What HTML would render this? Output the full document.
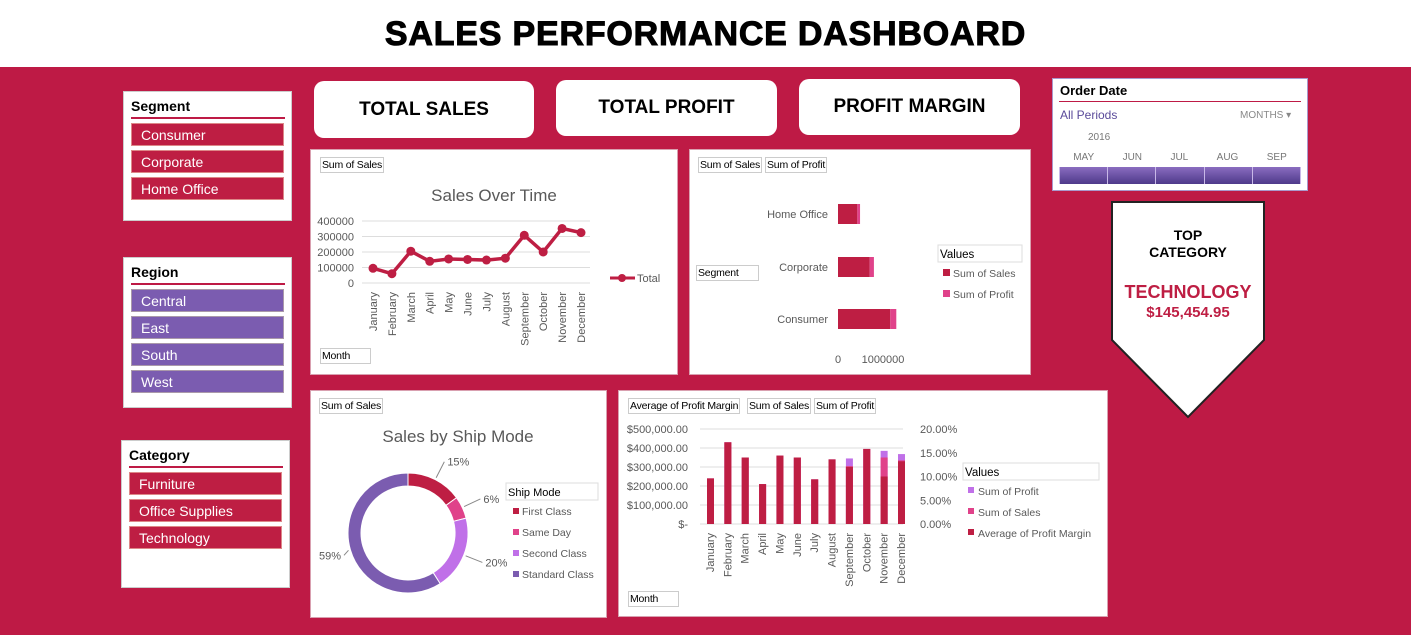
<!DOCTYPE html>
<html><head><meta charset="utf-8"><style>
*{box-sizing:border-box;margin:0;padding:0}
body{width:1411px;height:635px;overflow:hidden;font-family:"Liberation Sans",sans-serif;background:#BE1A45;position:relative}
.abs{position:absolute}
.panel{position:absolute;background:#fff;border:1px solid #d9a0b0}
.slicer{position:absolute;background:#fff;border:1px solid #ccc}
.slicer h3{font-size:14px;font-weight:bold;color:#000;margin:6px 6px 0 7px;padding-bottom:3px;border-bottom:2px solid #BE1A45}
.item{margin:4px 7px 0 7px;height:23px;color:#fff;font-size:14px;line-height:23px;padding-left:9px;border:1px solid #d88}
.cr{background:#BE1E43}.pu{background:#7B5CB0;border-color:#a9a}
.kpi{position:absolute;background:#fff;border-radius:10px;font-weight:bold;font-size:19px;text-align:center;color:#000}
.tag{position:absolute;border:1px solid #ccc;font-size:10.5px;background:#fff;padding:1px 1px;color:#000;white-space:nowrap;letter-spacing:-0.2px}
svg text{font-family:"Liberation Sans",sans-serif}
</style></head><body>
<div class="abs" style="left:0;top:0;width:1411px;height:67px;background:#fff"></div>
<div class="abs" style="left:0;top:15px;width:1411px;text-align:center;font-size:34px;font-weight:900;letter-spacing:0.8px;-webkit-text-stroke:1px #000">SALES PERFORMANCE DASHBOARD</div>

<div class="slicer" style="left:123px;top:91px;width:169px;height:130px">
<h3>Segment</h3>
<div class="item cr">Consumer</div>
<div class="item cr">Corporate</div>
<div class="item cr">Home Office</div>
</div>
<div class="slicer" style="left:123px;top:257px;width:169px;height:151px">
<h3>Region</h3>
<div class="item pu">Central</div>
<div class="item pu">East</div>
<div class="item pu">South</div>
<div class="item pu">West</div>
</div>
<div class="slicer" style="left:121px;top:440px;width:169px;height:148px">
<h3>Category</h3>
<div class="item cr">Furniture</div>
<div class="item cr">Office Supplies</div>
<div class="item cr">Technology</div>
</div>

<div class="kpi" style="left:314px;top:81px;width:220px;height:57px;line-height:57px">TOTAL SALES</div>
<div class="kpi" style="left:556px;top:80px;width:221px;height:56px;line-height:56px">TOTAL PROFIT</div>
<div class="kpi" style="left:799px;top:79px;width:221px;height:56px;line-height:56px">PROFIT MARGIN</div>

<div class="slicer" style="left:1052px;top:78px;width:256px;height:113px;border-color:#a9c">
<div class="abs" style="left:7px;top:4px;font-size:13px;font-weight:bold">Order Date</div>
<div class="abs" style="left:6px;top:22px;width:242px;border-top:1px solid #BE1A45"></div>
<div class="abs" style="left:7px;top:29px;font-size:12px;color:#5a4a9a">All Periods</div>
<div class="abs" style="left:187px;top:31px;font-size:10px;color:#888">MONTHS ▾</div>
<div class="abs" style="left:35px;top:53px;font-size:10px;color:#777">2016</div>
<div class="abs" style="left:6px;top:73px;width:242px;font-size:10px;color:#777;display:flex;justify-content:space-around"><span>MAY</span><span>JUN</span><span>JUL</span><span>AUG</span><span>SEP</span></div>
<div class="abs" style="left:6px;top:88px;width:242px;height:17px;background:linear-gradient(#8a6cc0,#4e3a8a);border-left:1px solid #ccc"></div>
<div class="abs" style="left:6px;top:88px;width:242px;height:17px;display:flex;justify-content:space-between;pointer-events:none"><span style="border-left:1px solid #c8b8e8"></span><span style="border-left:1px solid #c8b8e8"></span><span style="border-left:1px solid #c8b8e8"></span><span style="border-left:1px solid #c8b8e8"></span><span style="border-left:1px solid #c8b8e8"></span><span style="border-left:1px solid #c8b8e8"></span></div>
</div>

<svg class="abs" style="left:1110px;top:200px" width="158" height="220">
<polygon points="2,2 154,2 154,140 78,217 2,140" fill="#fff" stroke="#222" stroke-width="2"/>
<text x="78" y="40" text-anchor="middle" font-size="14" font-weight="bold">TOP</text>
<text x="78" y="57" text-anchor="middle" font-size="14" font-weight="bold">CATEGORY</text>
<text x="78" y="98" text-anchor="middle" font-size="18" font-weight="bold" fill="#BE1E43">TECHNOLOGY</text>
<text x="78" y="117" text-anchor="middle" font-size="15" font-weight="bold" fill="#BE1E43">$145,454.95</text>
</svg>

<div class="panel" style="left:310px;top:149px;width:368px;height:226px"></div>
<div class="tag" style="left:320px;top:157px">Sum of Sales</div>
<div class="tag" style="left:320px;top:348px;width:51px">Month</div>
<svg id="line" class="abs" style="left:310px;top:149px" width="368" height="226"></svg>

<div class="panel" style="left:689px;top:149px;width:342px;height:226px"></div>
<div class="tag" style="left:698px;top:157px">Sum of Sales</div>
<div class="tag" style="left:765px;top:157px">Sum of Profit</div>
<div class="tag" style="left:696px;top:265px;width:63px">Segment</div>
<svg id="hbar" class="abs" style="left:689px;top:149px" width="342" height="226"></svg>

<div class="panel" style="left:310px;top:390px;width:297px;height:228px"></div>
<div class="tag" style="left:319px;top:398px">Sum of Sales</div>
<svg id="donut" class="abs" style="left:310px;top:390px" width="297" height="228"></svg>

<div class="panel" style="left:618px;top:390px;width:490px;height:227px"></div>
<div class="tag" style="left:628px;top:398px">Average of Profit Margin</div>
<div class="tag" style="left:747px;top:398px">Sum of Sales</div>
<div class="tag" style="left:814px;top:398px">Sum of Profit</div>
<div class="tag" style="left:628px;top:591px;width:51px">Month</div>
<svg id="col" class="abs" style="left:618px;top:390px" width="490" height="227"></svg>

<script>
const months=["January","February","March","April","May","June","July","August","September","October","November","December"];
const salesByMonth=[95000,60000,205000,140000,155000,152000,148000,160000,308000,200000,352000,325000];
const lineTicks=[0,100000,200000,300000,400000];
const segments=["Consumer","Corporate","Home Office"];
const segSales=[1161401,706146,429653];
const segProfit=[134119,91979,60299];
const shipModes=["First Class","Same Day","Second Class","Standard Class"];
const shipPct=[15,6,20,59];
const colMargin=[240000,430000,350000,210000,360000,350000,235000,340000,300000,395000,250000,330000];
const colSales=[240000,430000,350000,210000,360000,350000,235000,340000,305000,395000,350000,335000];
const colProfit=[240000,430000,350000,210000,360000,350000,235000,340000,345000,395000,385000,368000];
const leftTicks=["$-","$100,000.00","$200,000.00","$300,000.00","$400,000.00","$500,000.00"];
const rightTicks=["0.00%","5.00%","10.00%","15.00%","20.00%"];

const NS="http://www.w3.org/2000/svg";
function mk(p,t,a,txt){const e=document.createElementNS(NS,t);for(const k in a)e.setAttribute(k,a[k]);if(txt!==undefined)e.textContent=txt;p.appendChild(e);return e;}
const G="#595959";

(function(){
const s=document.getElementById('line');
const x=i=>63+i*(208/11), y=v=>134-v/400000*62;
const t=mk(s,'text',{x:184,y:52,'text-anchor':'middle','font-size':17,fill:G},'Sales Over Time');

lineTicks.forEach(v=>{mk(s,'line',{x1:52,x2:280,y1:y(v),y2:y(v),stroke:'#ddd'});
 const l=mk(s,'text',{x:44,y:y(v)+4,'text-anchor':'end','font-size':11,fill:G},String(v));});
months.forEach((m,i)=>{const l=mk(s,'text',{transform:`translate(${x(i)+4},143) rotate(-90)`,'text-anchor':'end','font-size':11,fill:G},m);});
const p=mk(s,'polyline',{points:salesByMonth.map((v,i)=>x(i)+','+y(v)).join(' '),fill:'none',stroke:'#BE1E43','stroke-width':3.5});

salesByMonth.forEach((v,i)=>{const c=mk(s,'circle',{cx:x(i),cy:y(v),r:4.5,fill:'#BE1E43'});});
mk(s,'line',{x1:300,x2:325,y1:129,y2:129,stroke:'#BE1E43','stroke-width':3});
mk(s,'circle',{cx:312,cy:129,r:4,fill:'#BE1E43'});
const lg=mk(s,'text',{x:327,y:133,'font-size':11,fill:G},'Total');
})();

(function(){
const s=document.getElementById('hbar');
const x=v=>149+v/1000000*45;
const ys=[170,118,65];
segments.forEach((g,i)=>{const yy=ys[i];
 const b=mk(s,'rect',{x:x(0),y:yy-10,width:x(segSales[i])-x(0),height:20,fill:'#BE1E43'});
 const b2=mk(s,'rect',{x:x(segSales[i]),y:yy-10,width:x(segProfit[i])-x(0),height:20,fill:'#E0428A'});
 const l=mk(s,'text',{x:139,y:yy+4,'text-anchor':'end','font-size':11,fill:G},g);});
mk(s,'text',{x:x(0),y:214,'text-anchor':'middle','font-size':11,fill:G},'0');
mk(s,'text',{x:x(1000000),y:214,'text-anchor':'middle','font-size':11,fill:G},'1000000');
mk(s,'rect',{x:249,y:96,width:84,height:17,fill:'#fff',stroke:'#ddd'});
mk(s,'text',{x:251,y:109,'font-size':11.5},'Values');
mk(s,'rect',{x:254,y:120,width:7,height:7,fill:'#BE1E43'});mk(s,'text',{x:264,y:128,'font-size':10.5,fill:G},'Sum of Sales');
mk(s,'rect',{x:254,y:141,width:7,height:7,fill:'#E0428A'});mk(s,'text',{x:264,y:149,'font-size':10.5,fill:G},'Sum of Profit');
})();

(function(){
const s=document.getElementById('donut');
const cx=98,cy=143,R=60,r=47;const cols=['#BE1E43','#E0428A','#C070E8','#7B5CB0'];
const t=mk(s,'text',{x:148,y:52,'text-anchor':'middle','font-size':17,fill:G},'Sales by Ship Mode');
const tot=shipPct.reduce((a,b)=>a+b,0);let a0=-Math.PI/2;
const pt=(rad,a)=>[cx+rad*Math.cos(a),cy+rad*Math.sin(a)];
shipPct.forEach((v,i)=>{const a1=a0+v/tot*2*Math.PI;const lg=(a1-a0)>Math.PI?1:0;
 const [x0,y0]=pt(R,a0),[x1,y1]=pt(R,a1),[x2,y2]=pt(r,a1),[x3,y3]=pt(r,a0);
 const p=mk(s,'path',{d:`M${x0},${y0}A${R},${R} 0 ${lg} 1 ${x1},${y1}L${x2},${y2}A${r},${r} 0 ${lg} 0 ${x3},${y3}Z`,fill:cols[i],stroke:'#fff','stroke-width':1});
 
 const am=(a0+a1)/2;const right=Math.cos(am)>=0;let [lx,ly]=pt(R+20,am);if(!right)lx=Math.max(lx,34);const [ex,ey]=pt(R+2,am);
 mk(s,'line',{x1:ex,y1:ey,x2:lx,y2:ly,stroke:'#888'});
 const lt=mk(s,'text',{x:lx+(right?3:-3),y:ly+4,'text-anchor':right?'start':'end','font-size':11,fill:G},v+'%');
 
 a0=a1;});
mk(s,'rect',{x:196,y:93,width:92,height:17,fill:'#fff',stroke:'#ddd'});
mk(s,'text',{x:198,y:106,'font-size':11},'Ship Mode');
shipModes.forEach((m,i)=>{mk(s,'rect',{x:203,y:118+i*21,width:6,height:6,fill:cols[i]});mk(s,'text',{x:212,y:125+i*21,'font-size':10.5,fill:G},m);});
})();

(function(){
const s=document.getElementById('col');
const x=i=>92+i*(191/11), y=v=>134-v/500000*95;
leftTicks.forEach((t,i)=>{const v=i*100000;mk(s,'line',{x1:82,x2:285,y1:y(v),y2:y(v),stroke:'#ddd'});
 const l=mk(s,'text',{x:70,y:y(v)+4,'text-anchor':'end','font-size':11,fill:G},t);});
rightTicks.forEach((t,i)=>{const l=mk(s,'text',{x:302,y:y(i*125000)+4,'font-size':11,fill:G},t);});
months.forEach((m,i)=>{
 const bp=mk(s,'rect',{x:x(i)-3,y:y(colProfit[i]),width:7,height:y(0)-y(colProfit[i]),fill:'#C070E8'});
 const bs=mk(s,'rect',{x:x(i)-3,y:y(colSales[i]),width:7,height:y(0)-y(colSales[i]),fill:'#E0428A'});
 const bm=mk(s,'rect',{x:x(i)-3,y:y(colMargin[i]),width:7,height:y(0)-y(colMargin[i]),fill:'#BE1E43'});
 const l=mk(s,'text',{transform:`translate(${x(i)+4},143) rotate(-90)`,'text-anchor':'end','font-size':11,fill:G},m);});
mk(s,'rect',{x:345,y:73,width:136,height:17,fill:'#fff',stroke:'#ddd'});
mk(s,'text',{x:347,y:86,'font-size':11.5},'Values');
[['Sum of Profit','#C070E8'],['Sum of Sales','#E0428A'],['Average of Profit Margin','#BE1E43']].forEach((e,i)=>{mk(s,'rect',{x:350,y:97+i*21,width:6,height:6,fill:e[1]});mk(s,'text',{x:360,y:105+i*21,'font-size':10.5,fill:G},e[0]);});
})();
</script>
</body></html>
